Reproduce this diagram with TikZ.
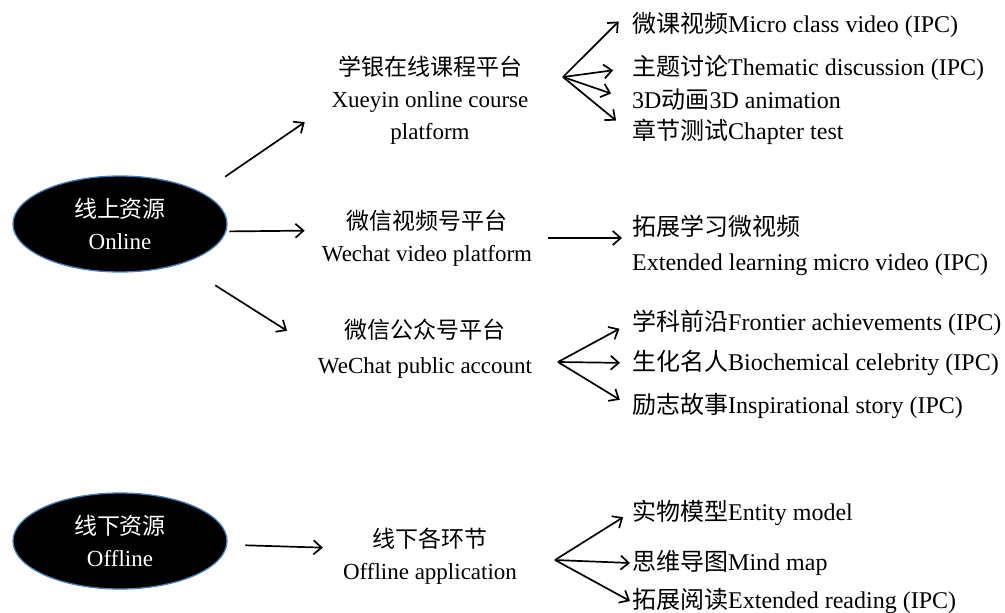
\documentclass[tikz,border=0pt]{standalone}
\usepackage{fontspec}
\setmainfont{Liberation Serif}
\newfontfamily\cjk{Noto Sans CJK SC}
\usetikzlibrary{arrows.meta,shapes.geometric}

\definecolor{rescol}{RGB}{74,126,187}
\newcommand{\zhs}[1]{{\cjk #1}}

\tikzset{
  res/.style={ellipse, fill=black, draw=rescol, line width=1.3pt,
    minimum width=214pt, minimum height=96pt, text=white, align=center, inner sep=0pt},
  mid/.style={align=center, inner sep=2pt},
  leaf/.style={anchor=west, inner sep=2pt, font=\fontsize{24}{35}\selectfont},
  arr/.style={-{Straight Barb[length=8pt,width=14pt]}, line width=1.7pt},
}

\begin{document}
\begin{tikzpicture}[x=1pt,y=-1pt,font=\fontsize{23}{32}\selectfont]

\useasboundingbox (0,0) rectangle (1005,613);

% resources
\node[res] (on)  at (120,224) {\zhs{线上资源}\\Online};
\node[res] (off) at (120,541) {\zhs{线下资源}\\Offline};

% platforms
\node[mid] (xy) at (430,100) {\zhs{学银在线课程平台}\\Xueyin online course\\platform};
\node[mid] (wv) at (427,238) {\zhs{微信视频号平台}\\Wechat video platform};
\node[mid, font=\fontsize{23}{35}\selectfont] (wp) at (425,349) {\zhs{微信公众号平台}\\WeChat public account};
\node[mid] (oa) at (430,556) {\zhs{线下各环节}\\Offline application};

% items
\node[leaf] (v1) at (630,25)  {\zhs{微课视频}Micro class video (IPC)};
\node[leaf] (v2) at (630,68)  {\zhs{主题讨论}Thematic discussion (IPC)};
\node[leaf] (v3) at (630,100) {3D\zhs{动画}3D animation};
\node[leaf] (v4) at (630,132) {\zhs{章节测试}Chapter test};

\node[leaf, align=left] (e1) at (630,245) {\zhs{拓展学习微视频}\\Extended learning micro video (IPC)};

\node[leaf] (p1) at (630,323) {\zhs{学科前沿}Frontier achievements (IPC)};
\node[leaf] (p2) at (630,363) {\zhs{生化名人}Biochemical celebrity (IPC)};
\node[leaf] (p3) at (630,406) {\zhs{励志故事}Inspirational story (IPC)};

\node[leaf] (o1) at (630,513) {\zhs{实物模型}Entity model};
\node[leaf] (o2) at (630,563) {\zhs{思维导图}Mind map};
\node[leaf] (o3) at (630,601) {\zhs{拓展阅读}Extended reading (IPC)};

% fan points
\coordinate (f1) at (563,77);
\coordinate (f2) at (558,362);
\coordinate (f3) at (555,560);

\draw[arr, shorten <=28pt, shorten >=30pt] (on.21) -- (xy.183);
\draw[arr, shorten <=3pt, shorten >=15pt] (on.-4) -- (wv.176);
\draw[arr, shorten <=40pt, shorten >=34pt] (on.-33) -- (wp.west);
\draw[arr, shorten <=18pt, shorten >=18pt] (off.-2) -- (oa.175);

\draw[arr, shorten <=14pt, shorten >=8pt] (wv.east) -- (wv.east -| e1.west);

\foreach \t/\s in {v1.north west/16pt,v2.west/17pt,v3.west/20pt,v4.west/18pt}
    \draw[arr, shorten >=\s] (f1) -- (\t);

\foreach \t/\s in {p1.west/12pt,p2.west/10pt,p3.west/12pt}
    \draw[arr, shorten >=\s] (f2) -- (\t);

\foreach \t/\s in {o1.west/8pt,o2.west/0pt,o3.west/0pt}
    \draw[arr, shorten >=\s] (f3) -- (\t);

\end{tikzpicture}
\end{document}
